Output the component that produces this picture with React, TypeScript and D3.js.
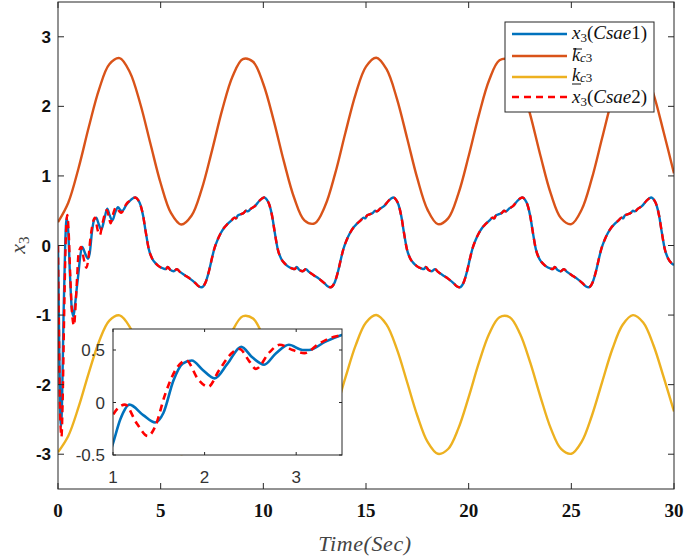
import React from 'react';
import * as d3 from 'd3';

// ---------- data ----------
const timeTicks = [0, 5, 10, 15, 20, 25, 30];
const yTicks = [-3, -2, -1, 0, 1, 2, 3];
const insetXTicks = [1, 2, 3];
const insetYTicks = [-0.5, 0, 0.5];
const insetYLabels = ['-0.5', '0', '0.5'];

// bounds sampled every 0.5 s from t = 0 to 30
const boundTime = d3.range(61).map((i) => i * 0.5);
const upperBound = [
  0.335, 0.615, 1.111, 1.703, 2.245, 2.605, 2.694, 2.491, 2.045, 1.466, 0.895, 0.468, 0.301, 0.427, 0.809, 1.364,
  1.953, 2.43, 2.68, 2.641, 2.321, 1.802, 1.209, 0.686, 0.362, 0.318, 0.563, 1.036, 1.624, 2.181, 2.571, 2.699,
  2.534, 2.116, 1.546, 0.964, 0.512, 0.307, 0.39, 0.745, 1.286, 1.878, 2.378, 2.663, 2.663, 2.377, 1.878, 1.286,
  0.745, 0.391, 0.307, 0.513, 0.964, 1.545, 2.114, 2.534, 2.699, 2.572, 2.18, 1.625, 1.037,
];
const lowerBound = [
  -2.971, -2.738, -2.324, -1.831, -1.379, -1.079, -1.005, -1.174, -1.546, -2.028, -2.504, -2.86, -2.999, -2.895,
  -2.576, -2.113, -1.623, -1.225, -1.017, -1.05, -1.316, -1.748, -2.243, -2.678, -2.948, -2.985, -2.781, -2.386,
  -1.897, -1.432, -1.107, -1.0, -1.138, -1.487, -1.962, -2.447, -2.823, -2.994, -2.925, -2.629, -2.179, -1.685,
  -1.269, -1.031, -1.031, -1.269, -1.685, -2.178, -2.629, -2.924, -2.994, -2.823, -2.447, -1.963, -1.488, -1.139,
  -1.001, -1.107, -1.433, -1.896, -2.386,
];

// transient part (0 .. 3.65 s)
const csae1TransTime = [
  0, 0.05, 0.1, 0.15, 0.2, 0.27, 0.35, 0.42, 0.5, 0.58, 0.67, 0.75, 0.83, 0.92, 1.0, 1.08, 1.18, 1.33, 1.46, 1.55,
  1.66, 1.76, 1.86, 1.98, 2.11, 2.25, 2.4, 2.52, 2.65, 2.78, 2.92, 3.07, 3.14, 3.32, 3.49, 3.65,
];
const csae1Trans = [
  0, -1.2, -2.3, -2.6, -2.2, -1.0, 0.0, 0.4, 0.2, -0.4, -0.9, -1.02, -0.85, -0.6, -0.39, -0.16, -0.02, -0.12, -0.19,
  -0.1, 0.21, 0.37, 0.4, 0.31, 0.23, 0.37, 0.53, 0.43, 0.36, 0.47, 0.55, 0.5, 0.5, 0.58, 0.64, 0.68,
];
const csae2TransTime = [
  0, 0.05, 0.1, 0.17, 0.23, 0.3, 0.38, 0.45, 0.52, 0.6, 0.69, 0.78, 0.86, 0.93, 1.0, 1.13, 1.26, 1.38, 1.46, 1.57,
  1.69, 1.8, 1.93, 2.04, 2.16, 2.31, 2.38, 2.49, 2.56, 2.71, 2.82, 2.96, 3.09, 3.25, 3.39, 3.49, 3.65,
];
const csae2Trans = [
  0, -1.3, -2.4, -2.75, -2.2, -1.0, 0.1, 0.44, 0.2, -0.45, -1.0, -1.15, -0.85, -0.45, -0.12, -0.02, -0.2, -0.32,
  -0.23, 0.08, 0.32, 0.4, 0.22, 0.15, 0.31, 0.48, 0.51, 0.39, 0.32, 0.48, 0.55, 0.5, 0.47, 0.56, 0.62, 0.64, 0.68,
];

// steady-state part, shared by both controllers (they overlap after ~3.7 s)
const steadyTime = [
  3.77, 3.89, 4.02, 4.15, 4.27, 4.42, 4.59, 4.77, 4.92, 5.12, 5.25, 5.34, 5.47, 5.64, 5.79, 5.94, 6.19, 6.44, 6.69, 6.87, 6.99,
  7.2, 7.36, 7.5, 7.61, 7.77, 7.93, 8.1, 8.26, 8.45, 8.6, 8.67, 8.75, 8.9, 9.05, 9.15, 9.25, 9.4, 9.6, 9.8, 9.95,
  10.05, 10.17, 10.3, 10.43, 10.55, 10.7, 10.87, 11.05, 11.2, 11.4, 11.53, 11.62, 11.75, 11.92, 12.07, 12.22, 12.47, 12.72, 12.97, 13.15, 13.27,
  13.49, 13.65, 13.79, 13.9, 14.06, 14.22, 14.39, 14.55, 14.74, 14.89, 14.96, 15.04, 15.19, 15.34, 15.44, 15.54, 15.69, 15.89, 16.09, 16.24,
  16.34, 16.46, 16.59, 16.72, 16.84, 16.99, 17.16, 17.34, 17.49, 17.69, 17.82, 17.91, 18.04, 18.21, 18.36, 18.51, 18.76, 19.01, 19.26, 19.44, 19.56,
  19.77, 19.93, 20.07, 20.18, 20.34, 20.5, 20.67, 20.83, 21.02, 21.17, 21.24, 21.32, 21.47, 21.62, 21.72, 21.82, 21.97, 22.17, 22.37, 22.52,
  22.62, 22.74, 22.87, 23.0, 23.12, 23.27, 23.44, 23.62, 23.77, 23.97, 24.1, 24.19, 24.32, 24.49, 24.64, 24.79, 25.04, 25.29, 25.54, 25.72, 25.84,
  26.05, 26.21, 26.35, 26.46, 26.62, 26.78, 26.95, 27.11, 27.3, 27.45, 27.52, 27.6, 27.75, 27.9, 28.0, 28.1, 28.25, 28.45, 28.65, 28.8,
  28.9, 29.02, 29.15, 29.28, 29.4, 29.55, 29.72, 29.9, 30.0,
];
const steadyValues = [
  0.69, 0.66, 0.58, 0.42, 0.2, -0.05, -0.19, -0.26, -0.3, -0.33, -0.34, -0.31, -0.35, -0.37, -0.34, -0.38, -0.43, -0.48, -0.54, -0.59, -0.6,
  -0.52, -0.36, -0.18, -0.05, 0.08, 0.18, 0.26, 0.31, 0.36, 0.4, 0.39, 0.43, 0.45, 0.47, 0.5, 0.49, 0.53, 0.57, 0.64, 0.68,
  0.69, 0.66, 0.58, 0.42, 0.2, -0.05, -0.19, -0.26, -0.3, -0.33, -0.34, -0.31, -0.35, -0.37, -0.34, -0.38, -0.43, -0.48, -0.54, -0.59, -0.6,
  -0.52, -0.36, -0.18, -0.05, 0.08, 0.18, 0.26, 0.31, 0.36, 0.4, 0.39, 0.43, 0.45, 0.47, 0.5, 0.49, 0.53, 0.57, 0.64, 0.68,
  0.69, 0.66, 0.58, 0.42, 0.2, -0.05, -0.19, -0.26, -0.3, -0.33, -0.34, -0.31, -0.35, -0.37, -0.34, -0.38, -0.43, -0.48, -0.54, -0.59, -0.6,
  -0.52, -0.36, -0.18, -0.05, 0.08, 0.18, 0.26, 0.31, 0.36, 0.4, 0.39, 0.43, 0.45, 0.47, 0.5, 0.49, 0.53, 0.57, 0.64, 0.68,
  0.69, 0.66, 0.58, 0.42, 0.2, -0.05, -0.19, -0.26, -0.3, -0.33, -0.34, -0.31, -0.35, -0.37, -0.34, -0.38, -0.43, -0.48, -0.54, -0.59, -0.6,
  -0.52, -0.36, -0.18, -0.05, 0.08, 0.18, 0.26, 0.31, 0.36, 0.4, 0.39, 0.43, 0.45, 0.47, 0.5, 0.49, 0.53, 0.57, 0.64, 0.68,
  0.69, 0.66, 0.58, 0.42, 0.2, -0.05, -0.19, -0.26, -0.28,
];

const COLORS = { blue: '#0072BD', orange: '#D95319', yellow: '#EDB120', red: '#FF0000' };
const AX = '#262626';

type P = [number, number];
const zip = (ts: number[], vs: number[]): P[] => ts.map((t, i) => [t, vs[i]] as P);

export default function App() {
  const W = 685, H = 557;
  const L = 58, R = 674, T = 2, B = 489;
  const x = d3.scaleLinear().domain([0, 30]).range([L, R]);
  const y = d3.scaleLinear().domain([-3.5, 3.5]).range([B, T]);
  const IL = 113, IR = 342, IT = 329, IB = 455;
  const ix = d3.scaleLinear().domain([1, 3.5]).range([IL, IR]);
  const iy = d3.scaleLinear().domain([-0.5, 0.7]).range([IB, IT]);

  const upper = zip(boundTime, upperBound);
  const lower = zip(boundTime, lowerBound);
  const steady = zip(steadyTime, steadyValues);
  const s1 = zip(csae1TransTime, csae1Trans).concat(steady);
  const s2 = zip(csae2TransTime, csae2Trans).concat(steady);

  const lineMain = d3.line<P>().x((d) => x(d[0])).y((d) => y(d[1])).curve(d3.curveMonotoneX);
  const lineBound = d3.line<P>().x((d) => x(d[0])).y((d) => y(d[1])).curve(d3.curveCatmullRom);
  const lineInset = d3.line<P>().x((d) => ix(d[0])).y((d) => iy(d[1])).curve(d3.curveMonotoneX);

  const insetS1 = s1.filter((d) => d[0] >= 0.9 && d[0] <= 3.8);
  const insetS2 = s2.filter((d) => d[0] >= 0.9 && d[0] <= 3.8);

  const serif = "'Liberation Serif', 'DejaVu Serif', serif";
  const sans = "'Liberation Sans', Arial, sans-serif";
  const lw = 2.4;
  const dash = '7,5';

  const legX = 505, legY = 22, legW = 149, legH = 90;
  const lx1 = 512, lx2 = 567, tx = 572;
  const rows = [34, 56, 77, 97];
  const lf = 19, sf = 13, kf = 18;

  return (
    <svg width={W} height={H} style={{ position: 'absolute', left: 0, top: 0, background: '#fff' }}>
      <defs>
        <clipPath id="mainClip">
          <rect x={L} y={T} width={R - L} height={B - T} />
        </clipPath>
        <clipPath id="insetClip">
          <rect x={IL} y={IT} width={IR - IL} height={IB - IT} />
        </clipPath>
      </defs>
      <rect x={0} y={0} width={W} height={H} fill="#fff" />

      {/* main lines */}
      <g clipPath="url(#mainClip)" fill="none" strokeLinejoin="round">
        <path d={lineMain(s1) || ''} stroke={COLORS.blue} strokeWidth={lw} />
        <path d={lineBound(upper) || ''} stroke={COLORS.orange} strokeWidth={lw} />
        <path d={lineBound(lower) || ''} stroke={COLORS.yellow} strokeWidth={lw} />
        <path d={lineMain(s2) || ''} stroke={COLORS.red} strokeWidth={lw} strokeDasharray={dash} />
      </g>

      {/* main axes box */}
      <rect x={L} y={T} width={R - L} height={B - T} fill="none" stroke={AX} strokeWidth={1} />
      {timeTicks.map((t) => (
        <g key={'xt' + t}>
          <line x1={x(t)} x2={x(t)} y1={B} y2={B - 6} stroke={AX} />
          <line x1={x(t)} x2={x(t)} y1={T} y2={T + 6} stroke={AX} />
          <text x={x(t)} y={517} textAnchor="middle" fontFamily={serif} fontWeight="bold" fontSize={19} fill="#111">
            {t}
          </text>
        </g>
      ))}
      {yTicks.map((v) => (
        <g key={'yt' + v}>
          <line x1={L} x2={L + 6} y1={y(v)} y2={y(v)} stroke={AX} />
          <line x1={R} x2={R - 6} y1={y(v)} y2={y(v)} stroke={AX} />
          <text x={51} y={y(v) + 6} textAnchor="end" fontFamily={sans} fontWeight="bold" fontSize={17} fill="#111">
            {v}
          </text>
        </g>
      ))}

      {/* axis labels */}
      <text x={365} y={551} textAnchor="middle" fontFamily={serif} fontStyle="italic" fontSize={22} letterSpacing={0.6} fill="#444">
        Time(Sec)
      </text>
      <g transform="translate(25,245) rotate(-90)">
        <text x={0} y={0} textAnchor="middle" fontFamily={serif} fill="#444" fontSize={22}>
          <tspan fontStyle="italic">x</tspan>
          <tspan fontSize={15} dy={4}>3</tspan>
        </text>
      </g>

      {/* inset */}
      <rect x={IL} y={IT} width={IR - IL} height={IB - IT} fill="#fff" />
      <g clipPath="url(#insetClip)" fill="none" strokeLinejoin="round">
        <path d={lineInset(insetS1) || ''} stroke={COLORS.blue} strokeWidth={2.6} />
        <path d={lineInset(insetS2) || ''} stroke={COLORS.red} strokeWidth={2.6} strokeDasharray={dash} />
      </g>
      <rect x={IL} y={IT} width={IR - IL} height={IB - IT} fill="none" stroke={AX} strokeWidth={1} />
      {insetXTicks.map((t) => (
        <g key={'ixt' + t}>
          <line x1={ix(t)} x2={ix(t)} y1={IB} y2={IB - 3} stroke={AX} />
          <line x1={ix(t)} x2={ix(t)} y1={IT} y2={IT + 3} stroke={AX} />
          <text x={ix(t)} y={483} textAnchor="middle" fontFamily={sans} fontSize={17} fill="#333">
            {t}
          </text>
        </g>
      ))}
      {insetYTicks.map((v, i) => (
        <g key={'iyt' + v}>
          <line x1={IL} x2={IL + 3} y1={iy(v)} y2={iy(v)} stroke={AX} />
          <line x1={IR} x2={IR - 3} y1={iy(v)} y2={iy(v)} stroke={AX} />
          <text x={105} y={iy(v) + 6} textAnchor="end" fontFamily={sans} fontSize={17} fill="#333">
            {insetYLabels[i]}
          </text>
        </g>
      ))}

      {/* legend */}
      <rect x={legX} y={legY} width={legW} height={legH} fill="#fff" stroke={AX} strokeWidth={1} />
      <line x1={lx1} x2={lx2} y1={rows[0]} y2={rows[0]} stroke={COLORS.blue} strokeWidth={lw} />
      <line x1={lx1} x2={lx2} y1={rows[1]} y2={rows[1]} stroke={COLORS.orange} strokeWidth={lw} />
      <line x1={lx1} x2={lx2} y1={rows[2]} y2={rows[2]} stroke={COLORS.yellow} strokeWidth={lw} />
      <line x1={lx1} x2={lx2} y1={rows[3]} y2={rows[3]} stroke={COLORS.red} strokeWidth={lw} strokeDasharray={dash} />

      <text x={tx} y={39} fontFamily={serif} fontSize={lf} fill="#111">
        <tspan fontStyle="italic">x</tspan>
        <tspan fontSize={sf} dy={3}>3</tspan>
        <tspan dy={-3}>(</tspan>
        <tspan fontStyle="italic">Csae</tspan>
        <tspan>1)</tspan>
      </text>
      <text x={tx} y={61} fontFamily={serif} fontSize={kf} fill="#111">
        <tspan fontStyle="italic">k</tspan>
        <tspan fontSize={sf} dy={1} fontStyle="italic">c</tspan>
        <tspan fontSize={sf}>3</tspan>
      </text>
      <line x1={tx + 1} x2={tx + 10} y1={49} y2={49} stroke="#111" strokeWidth={1} />
      <text x={tx} y={81} fontFamily={serif} fontSize={kf} fill="#111">
        <tspan fontStyle="italic">k</tspan>
        <tspan fontSize={sf} dy={1} fontStyle="italic">c</tspan>
        <tspan fontSize={sf}>3</tspan>
      </text>
      <line x1={tx} x2={tx + 9} y1={84} y2={84} stroke="#111" strokeWidth={1} />
      <text x={tx} y={103} fontFamily={serif} fontSize={lf} fill="#111">
        <tspan fontStyle="italic">x</tspan>
        <tspan fontSize={sf} dy={3}>3</tspan>
        <tspan dy={-3}>(</tspan>
        <tspan fontStyle="italic">Csae</tspan>
        <tspan>2)</tspan>
      </text>
    </svg>
  );
}
